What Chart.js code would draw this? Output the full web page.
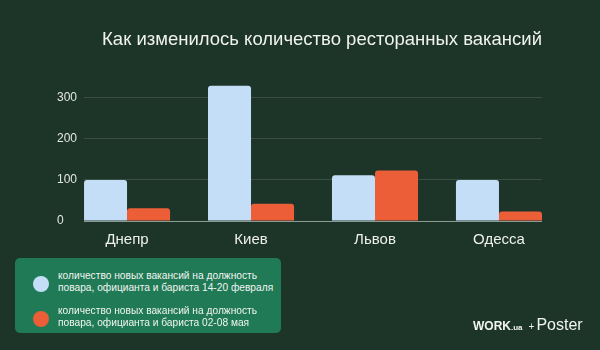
<!DOCTYPE html>
<html>
<head>
<meta charset="utf-8">
<script src="https://cdn.jsdelivr.net/npm/chart.js@4.4.1/dist/chart.umd.min.js"></script>
<style>
  html, body { margin: 0; padding: 0; background: #1d3529; }
  #wrap { position: relative; width: 600px; height: 350px; font-family: "Liberation Sans", Arial, sans-serif; }
  canvas { position: absolute; left: 0; top: 0; }
  #legend { position: absolute; left: 15px; top: 258px; width: 266px; height: 75px; background: #1f7a55; border-radius: 5px; box-sizing: border-box; padding-top: 10px; }
  .item { position: relative; height: 35px; }
  .dot { position: absolute; left: 18px; top: 8px; width: 16px; height: 16px; border-radius: 50%; }
  .txt { position: absolute; left: 43px; top: 2px; color: #f2f4f2; font-size: 10.2px; line-height: 12px; white-space: nowrap; }
  #logo { position: absolute; left: 473px; top: 316px; color: #f2f4f2; white-space: nowrap; }
  #logo .w { font-weight: bold; font-size: 12px; }
  #logo .ua { font-weight: bold; font-size: 8px; }
  #logo .p { font-size: 10px; margin-left: 6px; margin-right: 2px; }
  #logo .ps { font-size: 16px; }
</style>
</head>
<body>
<div id="wrap">
  <canvas id="c" width="600" height="350"></canvas>
  <div id="legend"></div>
  <div id="logo"><span class="w">WORK</span><span class="ua">.ua</span><span class="p">+</span><span class="ps">Poster</span></div>
</div>
<script>
const titleText = "Как изменилось количество ресторанных вакансий";
const categories = ["Днепр", "Киев", "Львов", "Одесса"];
const seriesLabels = [
  ["количество новых вакансий на должность", "повара, официанта и бариста 14-20 февраля"],
  ["количество новых вакансий на должность", "повара, официанта и бариста 02-08 мая"]
];
const febValues = [100, 329, 111, 100];
const mayValues = [31, 42, 123, 23];
const yTicks = [0, 100, 200, 300];
const colors = ["#c5def8", "#ec5e38"];

const toPoints = arr => arr.map((v, i) => ({ x: i, y: v }));

const chart = new Chart(document.getElementById("c"), {
  type: "bar",
  data: {
    datasets: [
      { label: seriesLabels[0].join(" "), data: toPoints(febValues), backgroundColor: colors[0] },
      { label: seriesLabels[1].join(" "), data: toPoints(mayValues), backgroundColor: colors[1] }
    ]
  },
  options: {
    responsive: false,
    animation: false,
    devicePixelRatio: 1,
    layout: { padding: { left: 57, right: 58, top: 29, bottom: 91 } },
    datasets: { bar: { categoryPercentage: 0.694, barPercentage: 1.0, borderRadius: 3, borderSkipped: "start" } },
    plugins: {
      legend: { display: false },
      tooltip: { enabled: false },
      title: {
        display: true, text: titleText, align: "end", color: "#f0f2ef",
        font: { family: "'Liberation Sans', Arial, sans-serif", size: 18.5, weight: "normal" },
        padding: { top: 0, bottom: 30 }
      }
    },
    scales: {
      x: {
        type: "linear", min: -0.347, max: 3.347, offset: false,
        grid: { display: false, drawTicks: false },
        border: { display: false },
        ticks: {
          stepSize: 1, includeBounds: false, autoSkip: false, maxRotation: 0, padding: 10,
          color: "#eef0ee", font: { family: "'Liberation Sans', Arial, sans-serif", size: 15 },
          callback: v => (Number.isInteger(v) && categories[v] !== undefined) ? categories[v] : ""
        }
      },
      y: {
        min: 0, max: 340,
        afterBuildTicks: s => { s.ticks = yTicks.map(v => ({ value: v })); },
        grid: {
          drawTicks: false, lineWidth: 1,
          color: ctx => (ctx.tick && ctx.tick.value === 0) ? "#8d9c92" : "#384f42"
        },
        border: { display: false },
        ticks: {
          padding: 3.5, crossAlign: "far", color: "#e4e7e4",
          font: { family: "'Liberation Sans', Arial, sans-serif", size: 12 }
        }
      }
    }
  }
});

const legend = document.getElementById("legend");
chart.data.datasets.forEach((ds, i) => {
  const item = document.createElement("div");
  item.className = "item";
  const dot = document.createElement("div");
  dot.className = "dot";
  dot.style.background = ds.backgroundColor;
  const txt = document.createElement("div");
  txt.className = "txt";
  txt.innerHTML = seriesLabels[i].join("<br>");
  item.appendChild(dot);
  item.appendChild(txt);
  legend.appendChild(item);
});
</script>
</body>
</html>
